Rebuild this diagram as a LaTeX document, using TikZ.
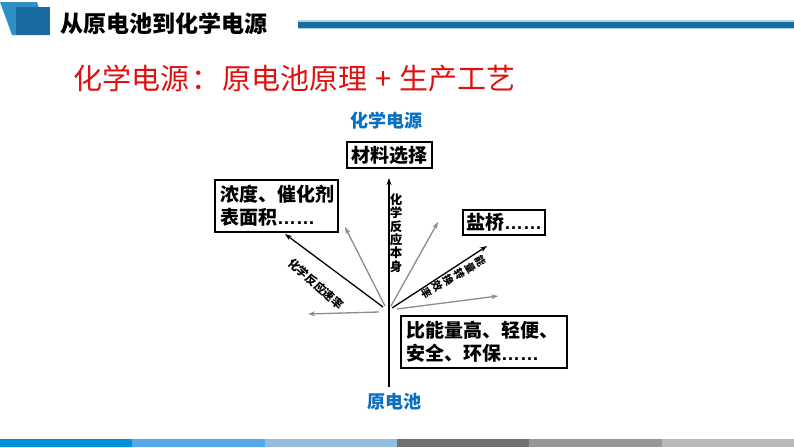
\documentclass[tikz,border=0pt]{standalone}
\usepackage{fontspec}
\setmainfont{Noto Sans CJK SC}
\newfontfamily\lat{Liberation Sans}
\usetikzlibrary{arrows.meta}
\definecolor{hlight}{HTML}{2F8FC6}
\definecolor{hdark}{HTML}{1A6AA2}
\definecolor{tline}{HTML}{166E9A}
\definecolor{tedge}{HTML}{A9D1EA}
\definecolor{subred}{HTML}{E01010}
\definecolor{lblue}{HTML}{0A6FC0}
\definecolor{garrow}{HTML}{8C8C8C}
\definecolor{b1}{HTML}{0091D6}
\definecolor{b2}{HTML}{56A9E8}
\definecolor{b3}{HTML}{95BCDD}
\definecolor{b4}{HTML}{717171}
\definecolor{b5}{HTML}{979797}
\definecolor{b6}{HTML}{B9B9B9}
\tikzset{
  boxnode/.style={draw=black, line width=1.3pt, inner sep=0pt,
    font=\bfseries\fontsize{19}{23}\selectfont},
  blklink/.style={draw=black, line width=1.3pt, -{Stealth[length=7pt,width=5pt]}},
  graylink/.style={draw=garrow, line width=1.3pt, -{Stealth[length=7pt,width=5pt]}},
  bluelabel/.style={text=lblue, font=\bfseries\fontsize{18}{20}\selectfont},
  vlabel/.style={align=center, inner sep=0pt},
}
\begin{document}
\begin{tikzpicture}[x=1pt,y=-1pt]
\useasboundingbox (0,0) rectangle (794,447);
% header
\fill[hlight] (0,2) -- (37,2) -- (47,35) -- (12,35) -- cycle;
\fill[hdark] (16,7) rectangle (50,35);
\node[anchor=west, inner sep=0pt, font=\bfseries\fontsize{23}{24}\selectfont] (title) at (60,24) {从原电池到化学电源};
\fill[tedge] (298,20) rectangle (794,29);
\fill[tline] (298,21.5) rectangle (794,27.5);
% subtitle
\node[anchor=west, inner sep=0pt, text=subred, font=\fontsize{29}{32}\selectfont] (sub) at (73,78) {化学电源\hspace{2pt}：\hspace{2pt}原电池原理\hspace{8pt}+\hspace{8pt}生产工艺};
% bottom bar
\fill[b1] (0,439) rectangle (132.33,447);
\fill[b2] (132.33,439) rectangle (264.67,447);
\fill[b3] (264.67,439) rectangle (397,447);
\fill[b4] (397,439) rectangle (529.33,447);
\fill[b5] (529.33,439) rectangle (661.67,447);
\fill[b6] (661.67,439) rectangle (794,447);
% labels
\node[bluelabel] (top) at (386,121) {化学电源};
\node[bluelabel] (bot) at (394,402) {原电池};
% boxes
\node[boxnode, minimum width=85pt, minimum height=26pt] (mat) at (389.5,155) {材料选择};
\node[boxnode, minimum width=123pt, minimum height=52pt, align=left, text width=113pt] (nong) at (276.5,206) {浓度、催化剂\\表面积{\lat ……}};
\node[boxnode, minimum width=82pt, minimum height=25pt] (yan) at (504,222.5) {盐桥{\lat ……}};
\node[boxnode, minimum width=166pt, minimum height=52pt, align=left, text width=156pt] (bi) at (484,342) {比能量高、轻便、\\安全、环保{\lat ……}};
% fan coordinates
\coordinate (vb) at (389,387);
\coordinate (vt) at (389,178);
\coordinate (sL) at (383,307);
\coordinate (tL) at (285,234);
\coordinate (sG1) at (379,312);
\coordinate (tG1) at (308,314);
\coordinate (sG2) at (385,306);
\coordinate (tG2) at (345,227);
\coordinate (sG3) at (391,306);
\coordinate (tG3) at (438,222);
\coordinate (sR) at (392,308);
\coordinate (tR) at (487,246);
\coordinate (sG4) at (397,309);
\coordinate (tG4) at (498,296);
\draw[blklink] (vb) -- (vt);
\draw[blklink] (sL) -- (tL);
\draw[blklink] (sR) -- (tR);
\draw[graylink] (sG1) -- (tG1);
\draw[graylink] (sG2) -- (tG2);
\draw[graylink] (sG3) -- (tG3);
\draw[graylink] (sG4) -- (tG4);
% arrow labels
\node[vlabel, font=\bfseries\fontsize{12.5}{13.4}\selectfont] (lab1) at (396,233) {化\\学\\反\\应\\本\\身};
\node[inner sep=0pt, rotate=-42, font=\bfseries\fontsize{11.5}{12}\selectfont] (lab2) at (316,284) {化学反应速率};
\node[vlabel, rotate=-60, font=\bfseries\fontsize{10.5}{12.5}\selectfont] (lab3) at (454,277) {能\\量\\转\\换\\效\\率};
\end{tikzpicture}
\end{document}
